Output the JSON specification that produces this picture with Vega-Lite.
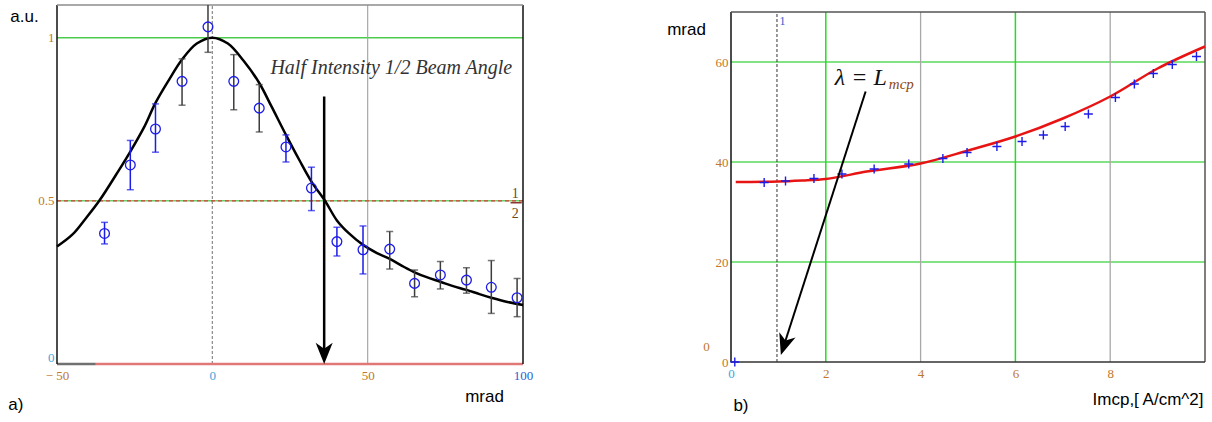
{
  "$schema": "https://vega.github.io/schema/vega-lite/v6.json",
  "autosize": {"type": "pad"},
  "padding": {"left": 8, "top": 4, "right": 0, "bottom": 0},
  "background": "white",
  "config": {"view": {"stroke": null}, "axis": {"labelFlush": false, "labelOverlap": false, "labelBound": false}},
  "bounds": "flush",
  "spacing": 208,
  "hconcat": [
    {
      "width": 466,
      "height": 359,
      "encoding": {
        "x": {"field": "x", "type": "quantitative",
          "scale": {"domain": [-50, 100], "nice": false, "zero": false},
          "axis": {"values": [-50, 0, 50, 100], "title": "mrad", "titleAngle": 0, "titleX": 427, "titleY": 32.5, "titleBaseline": "middle", "titleAlign": "center",
            "titleFont": "Liberation Sans", "titleFontSize": 17, "titleFontWeight": "normal", "titleColor": "#000",
            "labelFont": "Liberation Serif", "labelFontSize": 13, "labelPadding": 5, "ticks": false, "domain": false, "grid": false,
            "labelExpr": "datum.value == -50 ? '\u2212 50' : datum.label",
            "labelColor": {"expr": "datum.value == 0 ? '#3aa6dc' : (datum.value == 100 ? '#2a60d0' : '#c0782a')"}}},
        "y": {"field": "y", "type": "quantitative",
          "scale": {"domain": [0, 1.1], "nice": false, "zero": false},
          "axis": {"values": [0, 0.5, 1], "format": "~g", "title": "a.u.", "titleAngle": 0, "titleX": -33, "titleY": 11, "titleBaseline": "middle", "titleAlign": "center",
            "titleFont": "Liberation Sans", "titleFontSize": 17, "titleFontWeight": "normal", "titleColor": "#000",
            "labelFont": "Liberation Serif", "labelFontSize": 13, "labelPadding": 3, "labelBaseline": {"expr": "datum.value == 0 ? 'bottom' : 'middle'"}, "ticks": false, "domain": false, "grid": false,
            "labelColor": {"expr": "datum.value == 0 ? '#3aa6dc' : '#c0782a'"}}}
      },
      "layer": [
        {"data": {"values": [{"x": -50, "x2": 100, "y": 1}]}, "mark": {"type": "rule", "color": "#4ccc4c", "strokeWidth": 1.5}, "encoding": {"x2": {"field": "x2"}}},
        {"data": {"values": [{"x": 50, "y": 0, "y2": 1.1}]}, "mark": {"type": "rule", "color": "#a8a8a8", "strokeWidth": 1.2}, "encoding": {"y2": {"field": "y2"}}},
        {"data": {"values": [{"x": 0, "y": 0, "y2": 1.1}]}, "mark": {"type": "rule", "color": "#8a8a8a", "strokeWidth": 1.2, "strokeDash": [3, 2]}, "encoding": {"y2": {"field": "y2"}}},
        {"data": {"values": [{"x": -50, "x2": 100, "y": 0.5}]}, "mark": {"type": "rule", "color": "#6cd06c", "strokeWidth": 1.5}, "encoding": {"x2": {"field": "x2"}}},
        {"data": {"values": [{"x": -50, "x2": 100, "y": 0.5}]}, "mark": {"type": "rule", "color": "#e03a3a", "strokeWidth": 1.2, "strokeDash": [4, 3]}, "encoding": {"x2": {"field": "x2"}}},
        {"data": {"values": [{"x": -50, "x2": -37.5, "y": 0}]}, "mark": {"type": "rule", "color": "#707070", "strokeWidth": 2.5}, "encoding": {"x2": {"field": "x2"}}},
        {"data": {"values": [{"x": -37.5, "x2": 100, "y": 0}]}, "mark": {"type": "rule", "color": "#e07878", "strokeWidth": 2.5}, "encoding": {"x2": {"field": "x2"}}},
        {"data": {"values": [{"x": -50, "y": 0, "y2": 1.1}, {"x": 100, "y": 0, "y2": 1.1}]}, "mark": {"type": "rule", "color": "#111", "strokeWidth": 1.5}, "encoding": {"y2": {"field": "y2"}}},
        {"data": {"values": [{"x": -50, "x2": 100, "y": 1.1}]}, "mark": {"type": "rule", "color": "#8c8c8c", "strokeWidth": 1.5}, "encoding": {"x2": {"field": "x2"}}},
        {"data": {"values": [
          {"x": -50, "y": 0.36}, {"x": -45, "y": 0.397}, {"x": -41, "y": 0.443}, {"x": -36.4, "y": 0.5}, {"x": -30, "y": 0.595},
          {"x": -26.4, "y": 0.651}, {"x": -22, "y": 0.725}, {"x": -18.3, "y": 0.8}, {"x": -14, "y": 0.87}, {"x": -9.75, "y": 0.933},
          {"x": -5, "y": 0.982}, {"x": 0, "y": 1.0}, {"x": 5, "y": 0.982}, {"x": 10, "y": 0.93}, {"x": 15.1, "y": 0.861},
          {"x": 19, "y": 0.79}, {"x": 23.7, "y": 0.702}, {"x": 28, "y": 0.625}, {"x": 31.9, "y": 0.559}, {"x": 36.4, "y": 0.498},
          {"x": 40.1, "y": 0.44}, {"x": 44, "y": 0.4}, {"x": 48.5, "y": 0.365}, {"x": 53, "y": 0.34}, {"x": 57.1, "y": 0.322},
          {"x": 61.6, "y": 0.298}, {"x": 65.1, "y": 0.281}, {"x": 69, "y": 0.266}, {"x": 73.4, "y": 0.252}, {"x": 77, "y": 0.24},
          {"x": 81.8, "y": 0.227}, {"x": 86, "y": 0.214}, {"x": 89.8, "y": 0.203}, {"x": 95, "y": 0.19}, {"x": 100, "y": 0.181}]},
          "mark": {"type": "line", "color": "#000", "strokeWidth": 2.5, "interpolate": "catmull-rom"}, "encoding": {}},
        {"data": {"name": "pts", "values": [
          {"x": -34.7, "y": 0.40, "lo": 0.368, "hi": 0.434, "g": "b"},
          {"x": -26.4, "y": 0.61, "lo": 0.534, "hi": 0.685, "g": "b"},
          {"x": -18.3, "y": 0.72, "lo": 0.649, "hi": 0.797, "g": "b"},
          {"x": -9.75, "y": 0.866, "lo": 0.793, "hi": 0.935, "g": "k"},
          {"x": -1.4, "y": 1.033, "lo": 0.955, "hi": 1.12, "g": "k"},
          {"x": 6.9, "y": 0.866, "lo": 0.779, "hi": 0.948, "g": "k"},
          {"x": 15.1, "y": 0.784, "lo": 0.711, "hi": 0.856, "g": "k"},
          {"x": 23.7, "y": 0.665, "lo": 0.619, "hi": 0.702, "g": "b"},
          {"x": 31.9, "y": 0.539, "lo": 0.47, "hi": 0.603, "g": "b"},
          {"x": 40.1, "y": 0.375, "lo": 0.331, "hi": 0.419, "g": "b"},
          {"x": 48.5, "y": 0.35, "lo": 0.276, "hi": 0.423, "g": "b"},
          {"x": 57.1, "y": 0.352, "lo": 0.291, "hi": 0.406, "g": "k"},
          {"x": 65.1, "y": 0.247, "lo": 0.206, "hi": 0.288, "g": "k"},
          {"x": 73.4, "y": 0.273, "lo": 0.23, "hi": 0.314, "g": "k"},
          {"x": 81.8, "y": 0.257, "lo": 0.217, "hi": 0.295, "g": "k"},
          {"x": 89.8, "y": 0.235, "lo": 0.155, "hi": 0.317, "g": "k"},
          {"x": 98.1, "y": 0.203, "lo": 0.145, "hi": 0.262, "g": "k"}]},
          "layer": [
            {"mark": {"type": "rule", "strokeWidth": 1.5, "clip": true},
              "encoding": {"y": {"field": "lo", "type": "quantitative"}, "y2": {"field": "hi"},
                "color": {"field": "g", "type": "nominal", "scale": {"domain": ["b", "k"], "range": ["#1c1ce8", "#3c3c3c"]}, "legend": null}}},
            {"mark": {"type": "tick", "orient": "horizontal", "size": 7, "thickness": 1.5, "clip": true},
              "encoding": {"y": {"field": "lo", "type": "quantitative"},
                "color": {"field": "g", "type": "nominal", "scale": {"domain": ["b", "k"], "range": ["#1c1ce8", "#3c3c3c"]}, "legend": null}}},
            {"mark": {"type": "tick", "orient": "horizontal", "size": 7, "thickness": 1.5, "clip": true},
              "encoding": {"y": {"field": "hi", "type": "quantitative"},
                "color": {"field": "g", "type": "nominal", "scale": {"domain": ["b", "k"], "range": ["#1c1ce8", "#3c3c3c"]}, "legend": null}}},
            {"mark": {"type": "point", "shape": "circle", "filled": false, "stroke": "#1c1ce8", "strokeWidth": 1.3, "size": 95, "opacity": 1}}
          ]},
        {"data": {"values": [{"x": 36, "y": 0.82, "y2": 0.031}]}, "mark": {"type": "rule", "color": "#000", "strokeWidth": 2.5}, "encoding": {"y2": {"field": "y2"}}},
        {"data": {"values": [{"x": 36, "y": 0.031}]}, "mark": {"type": "point", "shape": "M0,1.2L-1,-1.3L0,-0.6L1,-1.3Z", "filled": true, "color": "#000", "size": 289, "opacity": 1}},
        {"data": {"values": [{"x": 18.7, "y": 0.888, "t": "Half Intensity 1/2 Beam Angle"}]},
          "mark": {"type": "text", "align": "left", "baseline": "alphabetic", "font": "Liberation Serif", "fontStyle": "italic", "fontSize": 20, "color": "#333"},
          "encoding": {"text": {"field": "t"}}},
        {"data": {"values": [{"x": 97.5, "y": 0.509, "t": "1"}, {"x": 97.5, "y": 0.447, "t": "2"}]},
          "mark": {"type": "text", "align": "center", "baseline": "alphabetic", "font": "Liberation Serif", "fontSize": 14, "color": "#6b4a1a"},
          "encoding": {"text": {"field": "t"}}},
        {"data": {"values": [{"x": 96, "x2": 99.6, "y": 0.494}]}, "mark": {"type": "rule", "color": "#7a1a10", "strokeWidth": 1.3}, "encoding": {"x2": {"field": "x2"}}},
        {"data": {"values": [{"x": -65.66, "y": -0.126, "t": "a)"}]},
          "mark": {"type": "text", "align": "left", "baseline": "middle", "font": "Liberation Sans", "fontSize": 17, "color": "#000", "clip": false},
          "encoding": {"text": {"field": "t"}}}
      ]
    },
    {
      "width": 474,
      "height": 357,
      "encoding": {
        "x": {"field": "x", "type": "quantitative",
          "scale": {"domain": [0, 10], "nice": false, "zero": false},
          "axis": {"values": [0, 2, 4, 6, 8], "title": "Imcp,[ A/cm^2]", "titleAngle": 0, "titleX": 472, "titleY": 37, "titleBaseline": "middle", "titleAlign": "right",
            "titleFont": "Liberation Sans", "titleFontSize": 17, "titleFontWeight": "normal", "titleColor": "#000",
            "labelFont": "Liberation Serif", "labelFontSize": 13, "labelPadding": 5, "ticks": false, "domain": false, "grid": false,
            "labelColor": {"expr": "datum.value == 0 ? '#3aa6dc' : '#c0782a'"}}},
        "y": {"field": "y", "type": "quantitative",
          "scale": {"domain": [0, 71.4], "nice": false, "zero": false},
          "axis": {"values": [0, 20, 40, 60], "title": "mrad", "titleAngle": 0, "titleX": -45, "titleY": 24, "titleBaseline": "middle", "titleAlign": "center",
            "titleFont": "Liberation Sans", "titleFontSize": 17, "titleFontWeight": "normal", "titleColor": "#000",
            "labelFont": "Liberation Serif", "labelFontSize": 13, "labelPadding": 3, "ticks": false, "domain": false, "grid": false,
            "labelColor": "#c0782a"}}
      },
      "layer": [
        {"data": {"values": [{"x": 0, "x2": 10, "y": 20}, {"x": 0, "x2": 10, "y": 40}, {"x": 0, "x2": 10, "y": 60}]}, "mark": {"type": "rule", "color": "#5ad85a", "strokeWidth": 1.5}, "encoding": {"x2": {"field": "x2"}}},
        {"data": {"values": [{"x": 4, "y": 0, "y2": 70}, {"x": 8, "y": 0, "y2": 70}]}, "mark": {"type": "rule", "color": "#a8a8a8", "strokeWidth": 1.3}, "encoding": {"y2": {"field": "y2"}}},
        {"data": {"values": [{"x": 2, "y": 0, "y2": 70}, {"x": 6, "y": 0, "y2": 70}]}, "mark": {"type": "rule", "color": "#22dd22", "strokeWidth": 1.5}, "encoding": {"y2": {"field": "y2"}}},
        {"data": {"values": [{"x": 0.97, "y": 0, "y2": 70}]}, "mark": {"type": "rule", "color": "#333", "strokeWidth": 1, "strokeDash": [3, 2]}, "encoding": {"y2": {"field": "y2"}}},
        {"data": {"values": [{"x": 0, "y": 0, "y2": 70}]}, "mark": {"type": "rule", "color": "#111", "strokeWidth": 1.5}, "encoding": {"y2": {"field": "y2"}}},
        {"data": {"values": [{"x": 10, "y": 0, "y2": 70}]}, "mark": {"type": "rule", "color": "#555", "strokeWidth": 1.5}, "encoding": {"y2": {"field": "y2"}}},
        {"data": {"values": [{"x": 0, "x2": 10, "y": 70}]}, "mark": {"type": "rule", "color": "#555", "strokeWidth": 1.5}, "encoding": {"x2": {"field": "x2"}}},
        {"data": {"values": [{"x": 0, "x2": 10, "y": 0}]}, "mark": {"type": "rule", "color": "#333", "strokeWidth": 1.5}, "encoding": {"x2": {"field": "x2"}}},
        {"data": {"values": [
          {"x": 0.1, "y": 36.0}, {"x": 1, "y": 36.1}, {"x": 1.5, "y": 36.3}, {"x": 2, "y": 36.6}, {"x": 2.86, "y": 38.1},
          {"x": 4, "y": 39.7}, {"x": 5, "y": 42.3}, {"x": 6, "y": 45.1}, {"x": 7, "y": 48.7}, {"x": 8, "y": 53.1},
          {"x": 9, "y": 58.7}, {"x": 10, "y": 63.1}]},
          "mark": {"type": "line", "color": "#e81414", "strokeWidth": 2.5, "interpolate": "monotone"}, "encoding": {}},
        {"data": {"values": [
          {"x": 0.08, "y": 0}, {"x": 0.7, "y": 35.9}, {"x": 1.15, "y": 36.2}, {"x": 1.75, "y": 36.7}, {"x": 2.34, "y": 37.6},
          {"x": 3.02, "y": 38.6}, {"x": 3.75, "y": 39.6}, {"x": 4.47, "y": 40.7}, {"x": 4.98, "y": 41.9}, {"x": 5.61, "y": 43.1},
          {"x": 6.14, "y": 44.1}, {"x": 6.59, "y": 45.4}, {"x": 7.05, "y": 47.1}, {"x": 7.54, "y": 49.6}, {"x": 8.11, "y": 52.9},
          {"x": 8.51, "y": 55.6}, {"x": 8.91, "y": 57.7}, {"x": 9.31, "y": 59.5}, {"x": 9.82, "y": 61.1}]},
          "mark": {"type": "point", "shape": "M-1,0L1,0M0,-1L0,1", "filled": false, "stroke": "#1c1ce8", "strokeWidth": 1.4, "size": 81, "opacity": 1}},
        {"data": {"values": [{"x": 2.84, "y": 54.1, "x2": 1.118, "y2": 3.34}]}, "mark": {"type": "rule", "color": "#000", "strokeWidth": 2}, "encoding": {"x2": {"field": "x2"}, "y2": {"field": "y2"}}},
        {"data": {"values": [{"x": 1.118, "y": 3.34}]}, "mark": {"type": "point", "shape": "M0,1.2L-1,-1.3L0,-0.6L1,-1.3Z", "filled": true, "color": "#000", "size": 289, "opacity": 1, "angle": 17.8}},
        {"data": {"values": [{"x": 2.19, "y": 55.4, "t": "\u03bb = L"}]},
          "mark": {"type": "text", "align": "left", "baseline": "alphabetic", "font": "Liberation Serif", "fontStyle": "italic", "fontSize": 24, "color": "#111"},
          "encoding": {"text": {"field": "t"}}},
        {"data": {"values": [{"x": 3.33, "y": 54.6, "t": "mcp"}]},
          "mark": {"type": "text", "align": "left", "baseline": "alphabetic", "font": "Liberation Serif", "fontStyle": "italic", "fontSize": 15, "color": "#8a4a14"},
          "encoding": {"text": {"field": "t"}}},
        {"data": {"values": [{"x": 1.0, "y": 68.3, "t": "1"}]},
          "mark": {"type": "text", "align": "left", "baseline": "middle", "dx": 1, "font": "Liberation Serif", "fontSize": 12, "color": "#2a60d0"},
          "encoding": {"text": {"field": "t"}}},
        {"data": {"values": [{"x": -0.516, "y": 3.0, "t": "0"}]},
          "mark": {"type": "text", "align": "center", "baseline": "middle", "font": "Liberation Serif", "fontSize": 13, "color": "#c0782a", "clip": false},
          "encoding": {"text": {"field": "t"}}},
        {"data": {"values": [{"x": 0.21, "y": -8.8, "t": "b)"}]},
          "mark": {"type": "text", "align": "center", "baseline": "middle", "font": "Liberation Sans", "fontSize": 17, "color": "#000", "clip": false},
          "encoding": {"text": {"field": "t"}}}
      ]
    }
  ]
}
